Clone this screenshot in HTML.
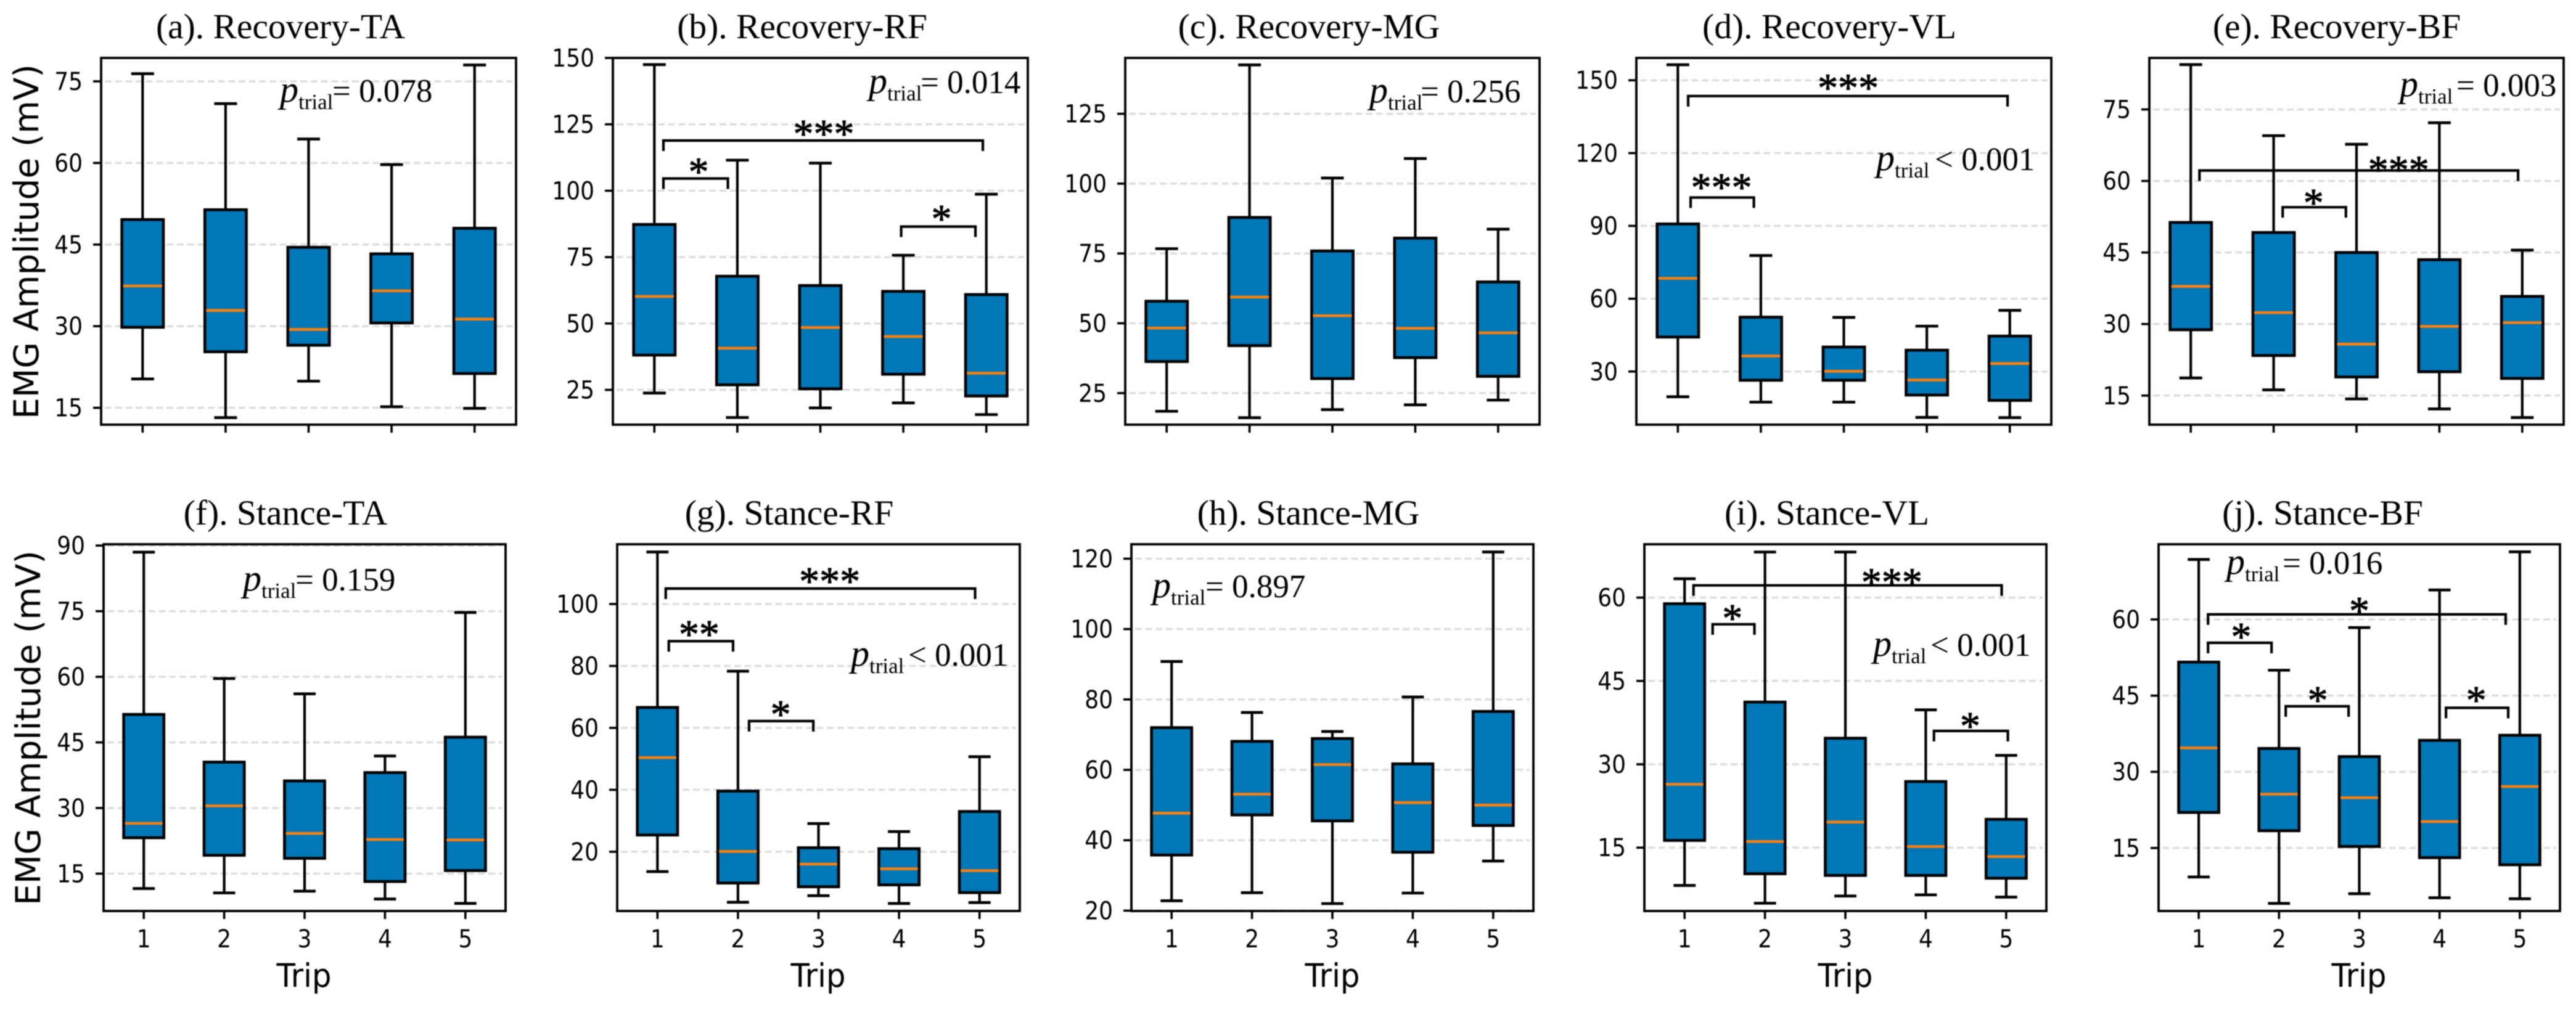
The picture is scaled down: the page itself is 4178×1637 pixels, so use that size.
<!DOCTYPE html>
<html lang="en">
<head>
<meta charset="utf-8">
<title>EMG amplitude by trip</title>
<style>
html,body{margin:0;padding:0;background:#fff;}
svg{display:block;filter:blur(0.7px);}
.title{font-family:"Liberation Serif",serif;font-size:57.5px;fill:#000;text-anchor:middle;}
.ylab{font-family:"DejaVu Sans",sans-serif;font-size:55px;fill:#000;text-anchor:middle;}
.xlab{font-family:"DejaVu Sans",sans-serif;font-size:53px;fill:#000;text-anchor:middle;}
.tick{font-family:"DejaVu Sans",sans-serif;font-size:40px;fill:#000;}
.pv{font-family:"Liberation Serif",serif;font-size:53px;fill:#000;}
.pi{font-style:italic;font-size:60px;}
.ps{font-size:35px;}
.star{font-family:"Liberation Serif",serif;font-size:66px;fill:#000;stroke:#000;stroke-width:1px;text-anchor:middle;}
</style>
</head>
<body>
<svg id="chart" xmlns="http://www.w3.org/2000/svg" width="4178" height="1637" viewBox="0 0 4178 1637">
  <rect x="0" y="0" width="4178" height="1637" fill="#fff"/>
  <g id="marks"></g>

  <text class="title" x="455" y="62">(a). Recovery-TA</text>
  <text class="title" x="1301" y="62">(b). Recovery-RF</text>
  <text class="title" x="2123" y="62">(c). Recovery-MG</text>
  <text class="title" x="2967" y="62">(d). Recovery-VL</text>
  <text class="title" x="3790" y="62">(e). Recovery-BF</text>
  <text class="title" x="463" y="851">(f). Stance-TA</text>
  <text class="title" x="1280" y="851">(g). Stance-RF</text>
  <text class="title" x="2122" y="851">(h). Stance-MG</text>
  <text class="title" x="2963" y="851">(i). Stance-VL</text>
  <text class="title" x="3767" y="851">(j). Stance-BF</text>

  <text class="ylab" transform="translate(62,392) rotate(-90)">EMG Amplitude (mV)</text>
  <text class="ylab" transform="translate(65,1181) rotate(-90)">EMG Amplitude (mV)</text>

  <text class="xlab" transform="translate(493,1601) scale(0.94,1)">Trip</text>
  <text class="xlab" transform="translate(1327,1601) scale(0.94,1)">Trip</text>
  <text class="xlab" transform="translate(2161,1601) scale(0.94,1)">Trip</text>
  <text class="xlab" transform="translate(2993,1601) scale(0.94,1)">Trip</text>
  <text class="xlab" transform="translate(3826,1601) scale(0.94,1)">Trip</text>

  <g><text class="pv" x="454" y="165"><tspan class="pi">p</tspan><tspan class="ps" dy="12">trial</tspan></text><text class="pv" x="539" y="165">= 0.078</text></g>
  <g><text class="pv" x="1409" y="151"><tspan class="pi">p</tspan><tspan class="ps" dy="12">trial</tspan></text><text class="pv" x="1493" y="151">= 0.014</text></g>
  <g><text class="pv" x="2221" y="166"><tspan class="pi">p</tspan><tspan class="ps" dy="12">trial</tspan></text><text class="pv" x="2304" y="166">= 0.256</text></g>
  <g><text class="pv" x="3043" y="276"><tspan class="pi">p</tspan><tspan class="ps" dy="12">trial</tspan></text><text class="pv" x="3138" y="276">&lt; 0.001</text></g>
  <g><text class="pv" x="3892" y="156"><tspan class="pi">p</tspan><tspan class="ps" dy="12">trial</tspan></text><text class="pv" x="3984" y="156">= 0.003</text></g>
  <g><text class="pv" x="394" y="958"><tspan class="pi">p</tspan><tspan class="ps" dy="12">trial</tspan></text><text class="pv" x="479" y="958">= 0.159</text></g>
  <g><text class="pv" x="1380" y="1080"><tspan class="pi">p</tspan><tspan class="ps" dy="12">trial</tspan></text><text class="pv" x="1473" y="1080">&lt; 0.001</text></g>
  <g><text class="pv" x="1869" y="969"><tspan class="pi">p</tspan><tspan class="ps" dy="12">trial</tspan></text><text class="pv" x="1955" y="969">= 0.897</text></g>
  <g><text class="pv" x="3038" y="1064"><tspan class="pi">p</tspan><tspan class="ps" dy="12">trial</tspan></text><text class="pv" x="3131" y="1064">&lt; 0.001</text></g>
  <g><text class="pv" x="3611" y="931"><tspan class="pi">p</tspan><tspan class="ps" dy="12">trial</tspan></text><text class="pv" x="3702" y="931">= 0.016</text></g>
</svg>

<script>
// ---- chart data (one row per panel, a..j; one value per trip) ----
const panelIds = ['a','b','c','d','e','f','g','h','i','j'];
const trips = [1,2,3,4,5];
const whiskerHigh = [
  [76.4,70.9,64.4,59.7,78.0],
  [147.5,111.5,110.4,75.7,98.7],
  [76.7,142.5,102.0,109.0,83.7],
  [156.4,77.8,52.3,48.7,55.2],
  [84.4,69.5,67.7,72.2,45.5],
  [88.5,59.6,56.1,41.9,74.7],
  [116.8,78.3,29.1,26.5,50.7],
  [90.8,76.3,70.9,80.7,121.9],
  [63.4,68.2,68.2,39.8,31.6],
  [71.8,50.0,58.4,65.8,73.3]
];
const whiskerLow = [
  [20.3,13.2,19.9,15.2,14.9],
  [23.8,14.6,18.2,20.1,15.7],
  [18.5,16.2,19.1,20.8,22.5],
  [19.6,17.4,17.4,11.1,11.0],
  [18.7,16.2,14.3,12.2,10.4],
  [11.6,10.6,11.0,9.2,8.2],
  [13.6,3.7,5.8,3.3,3.6],
  [22.8,25.1,22.0,25.0,34.1],
  [8.2,5.0,6.3,6.5,6.1],
  [9.3,4.1,6.0,5.2,5.0]
];
const quartile3 = [
  [49.6,51.4,44.5,43.3,48.0],
  [87.3,67.8,64.3,62.1,60.9],
  [57.9,87.9,75.9,80.5,64.8],
  [90.8,52.4,40.1,38.8,44.6],
  [51.3,49.2,45.0,43.5,35.8],
  [51.4,40.5,36.2,38.1,46.2],
  [66.6,39.6,21.3,21.0,33.0],
  [72.0,68.1,68.9,61.7,76.6],
  [58.9,41.2,34.7,26.9,20.1],
  [51.6,34.6,33.0,36.2,37.2]
];
const quartile1 = [
  [29.8,25.3,26.5,30.6,21.3],
  [38.1,26.9,25.4,30.9,22.7],
  [36.3,42.0,30.2,37.7,31.0],
  [44.2,26.4,26.4,20.3,18.1],
  [28.8,23.4,18.9,20.0,18.6],
  [23.2,19.2,18.5,13.2,15.7],
  [25.4,9.9,8.7,9.3,6.8],
  [35.8,47.2,45.5,36.6,44.2],
  [16.3,10.3,10.0,10.0,9.5],
  [22.0,18.4,15.3,13.1,11.7]
];
const medians = [
  [37.4,32.9,29.4,36.5,31.3],
  [60.2,40.7,48.5,45.1,31.3],
  [48.3,59.4,52.7,48.2,46.6],
  [68.4,36.4,30.1,26.5,33.3],
  [37.9,32.4,25.8,29.5,30.3],
  [26.5,30.5,24.2,22.8,22.7],
  [50.4,20.1,16.0,14.5,13.9],
  [47.7,53.1,61.5,50.7,50.0],
  [26.4,16.1,19.6,15.2,13.4],
  [34.7,25.6,24.9,20.2,27.1]
];
const yLimits = [
  [11.9,79.3],[11.9,150],[13.7,145],[8.1,159.2],[8.9,85.8],
  [6.46,90.3],[0.87,119.3],[19.9,124.1],[3.6,69.6],[2.6,74.8]
];
const yTickLabels = [
  [15,30,45,60,75],
  [25,50,75,100,125,150],
  [25,50,75,100,125],
  [30,60,90,120,150],
  [15,30,45,60,75],
  [15,30,45,60,75,90],
  [20,40,60,80,100],
  [20,40,60,80,100,120],
  [15,30,45,60],
  [15,30,45,60]
];
// significance brackets: from trip, to trip, height (value), stars, star trip, star height (value)
const significance = [
  [],
  [[1.109,4.958,118.9,'***',3.041,123.5],[1.109,1.886,104.6,'*',1.533,109.3],[3.974,4.869,86.5,'*',4.46,91.5]],
  [],
  [[1.124,4.973,143.5,'***',3.052,149.2],[1.154,1.916,101.7,'***',1.525,108.1]],
  [[1.105,4.95,62.2,'***',3.508,63.5],[2.109,2.872,54.5,'*',2.481,56.6]],
  [],
  [[1.103,4.945,105,'***',3.139,109.1],[1.141,1.939,88,'**',1.517,92],[2.138,2.936,62.2,'*',2.53,66.2]],
  [],
  [[1.111,4.944,62.2,'***',3.577,63.8],[1.349,1.869,55.2,'*',1.595,57.3],[4.102,5.021,36,'*',4.552,37.9]],
  [[1.116,4.824,61,'*',3,62.8],[1.116,1.907,55.4,'*',1.528,57.7],[2.084,2.867,42.9,'*',2.483,45.2],[4.08,4.855,42.6,'*',4.456,45.2]]
];

// ---- layout ----
const SVGNS = 'http://www.w3.org/2000/svg';
const frames = [
  [164,837],[994,1667],[1825,2497],[2654,3327],[3486,4158],
  [168,820],[1001,1654],[1835,2487],[2667,3319],[3501,4152]
];
const rowTop = [94,883];
const rowBottom = [689,1478];
const BOX_W = 0.5, CAP_W = 0.275;
const root = document.getElementById('marks');

function mk(parent, tag, attrs) {
  const el = document.createElementNS(SVGNS, tag);
  for (const k in attrs) el.setAttribute(k, attrs[k]);
  parent.appendChild(el);
  return el;
}
function seg(parent, x1, y1, x2, y2, color, w, extra) {
  const attrs = {x1:x1, y1:y1, x2:x2, y2:y2, stroke:color, 'stroke-width':w};
  if (extra) for (const k in extra) attrs[k] = extra[k];
  return mk(parent, 'line', attrs);
}

panelIds.forEach(function (id, p) {
  const row = p < 5 ? 0 : 1;
  const left = frames[p][0], right = frames[p][1];
  const top = rowTop[row], bottom = rowBottom[row];
  const xScale = function (t) { return left + (t - 0.5) * (right - left) / 5; };
  const yScale = function (v) {
    return bottom - (v - yLimits[p][0]) / (yLimits[p][1] - yLimits[p][0]) * (bottom - top);
  };

  const g = mk(root, 'g', {});
  
  

  // gridlines and y ticks
  yTickLabels[p].forEach(function (v) {
    const y = yScale(v);
    const grid = seg(g, left + 6, y, right - 6, y, '#dddddd', 3.5, {'stroke-dasharray':'11 5.7'});
    
    
    const tick = seg(g, left - 13, y, left, y, '#000', 3.6);
    
    
    const label = mk(g, 'text', {'class':'tick', transform:'translate(' + (left - 30) + ',' + (y + 14) + ') scale(0.9,1)', 'text-anchor':'end'});
    label.textContent = String(v);
    
    
  });

  // boxes
  trips.forEach(function (trip, i) {
    const cx = xScale(trip);
    const unit = (right - left) / 5;
    const b = mk(g, 'g', {});
    
    

    const upper = seg(b, cx, yScale(whiskerHigh[p][i]), cx, yScale(quartile3[p][i]), '#000', 4.2);
    
    
    const lower = seg(b, cx, yScale(quartile1[p][i]), cx, yScale(whiskerLow[p][i]), '#000', 4.2);
    
    
    const capHigh = seg(b, cx - CAP_W * unit / 2, yScale(whiskerHigh[p][i]), cx + CAP_W * unit / 2, yScale(whiskerHigh[p][i]), '#000', 4.6);
    
    
    const capLow = seg(b, cx - CAP_W * unit / 2, yScale(whiskerLow[p][i]), cx + CAP_W * unit / 2, yScale(whiskerLow[p][i]), '#000', 4.6);
    
    

    const yQ3 = yScale(quartile3[p][i]), yQ1 = yScale(quartile1[p][i]);
    const rect = mk(b, 'rect', {
      x:cx - BOX_W * unit / 2, y:yQ3, width:BOX_W * unit, height:yQ1 - yQ3,
      fill:'#0077b6', stroke:'#000', 'stroke-width':4.6
    });
    
    
    const med = seg(b, cx - BOX_W * unit / 2 + 2, yScale(medians[p][i]), cx + BOX_W * unit / 2 - 2, yScale(medians[p][i]), '#ff7f0e', 4.4);
    
    

    // x tick
    const xt = seg(g, cx, bottom, cx, bottom + 13, '#000', 3.6);
    
    
    if (row === 1) {
      const xl = mk(g, 'text', {'class':'tick', transform:'translate(' + cx + ',1537) scale(0.9,1)', 'text-anchor':'middle'});
      xl.textContent = String(trip);
      
      
    }
  });

  // significance brackets
  significance[p].forEach(function (s) {
    const yb = yScale(s[2]);
    const x1 = xScale(s[0]), x2 = xScale(s[1]);
    const path = mk(g, 'path', {
      d:'M' + x1 + ' ' + (yb + 17) + 'V' + yb + 'H' + x2 + 'V' + (yb + 17),
      fill:'none', stroke:'#000', 'stroke-width':4.2
    });
    
    
    const star = mk(g, 'text', {'class':'star', x:xScale(s[4]), y:yScale(s[5]) + 31});
    star.textContent = s[3];
    
    
  });

  // frame
  const spine = mk(g, 'rect', {x:left, y:top, width:right - left, height:bottom - top, fill:'none', stroke:'#000', 'stroke-width':3.8});
  
  
});
</script>
</body>
</html>
